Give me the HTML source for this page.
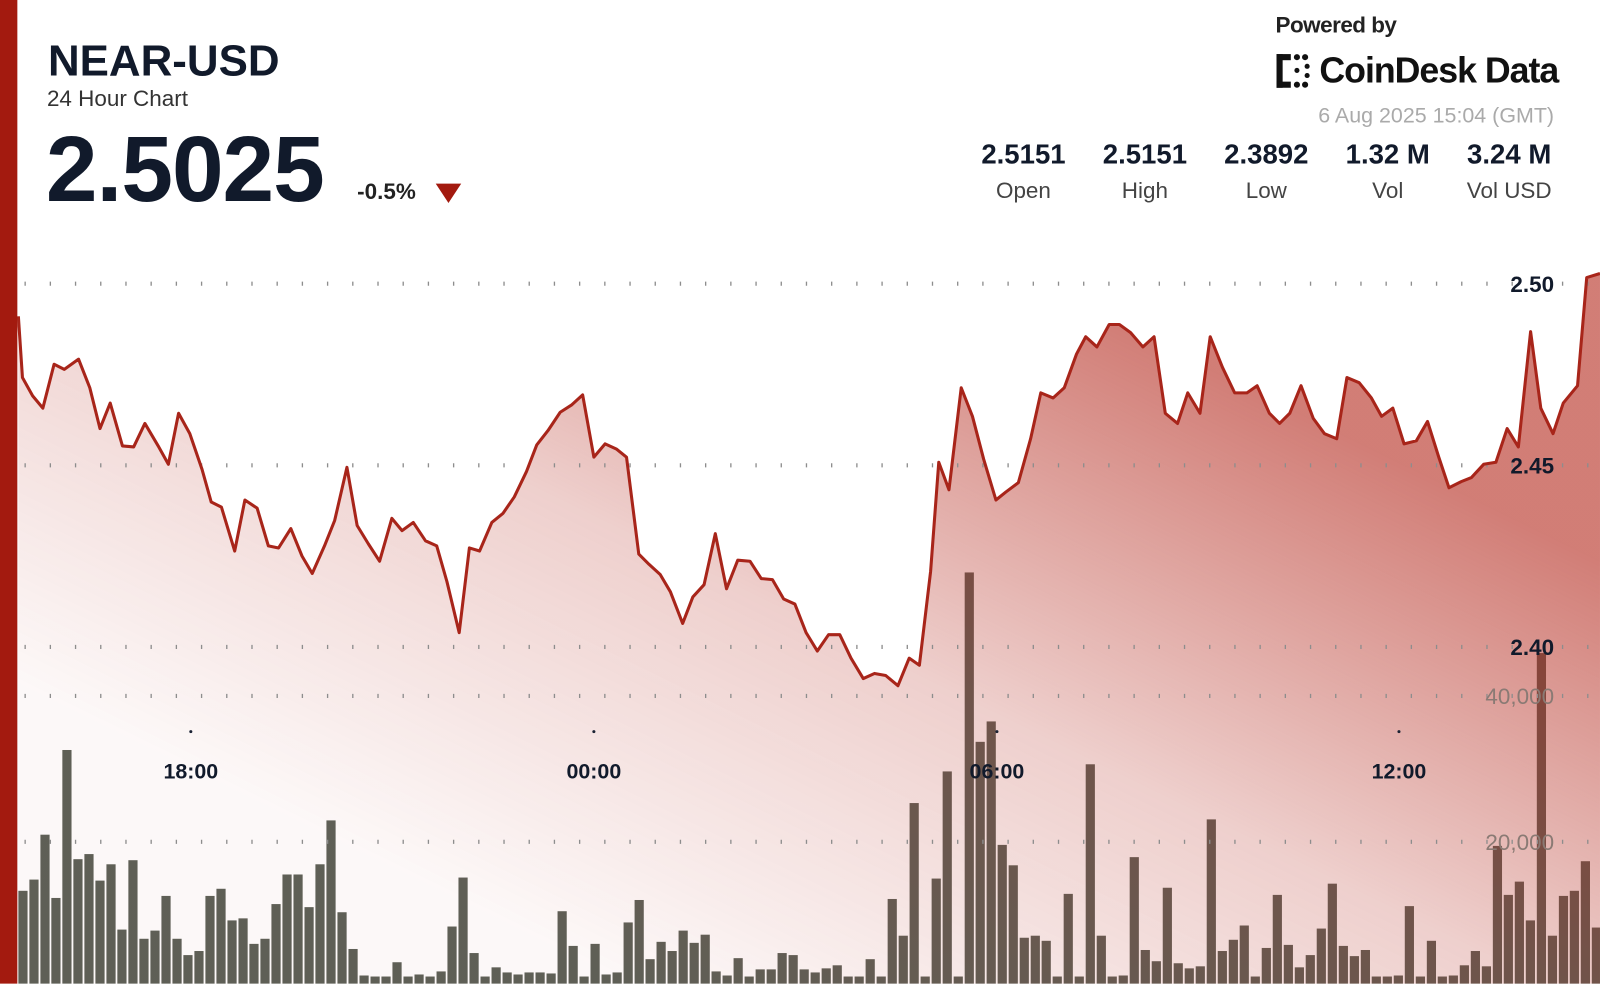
<!DOCTYPE html>
<html><head><meta charset="utf-8">
<style>
html,body{margin:0;padding:0;background:#fff;}
body{width:1600px;height:983px;overflow:hidden;position:relative;font-family:"Liberation Sans",sans-serif;color:#111a2b;}
#wrap{position:absolute;left:0;top:0;width:1568px;height:964px;transform:scale(1.0204);transform-origin:0 0;}
.abs{position:absolute;white-space:nowrap;}
</style></head><body>
<div id="wrap">
<svg width="1568" height="964" style="position:absolute;left:0;top:0" xmlns="http://www.w3.org/2000/svg">
<defs>
<linearGradient id="g" gradientUnits="userSpaceOnUse" x1="650" y1="983" x2="1000" y2="270">
<stop offset="0" stop-color="#b3271b" stop-opacity="0.03"/>
<stop offset="0.5" stop-color="#b3271b" stop-opacity="0.22"/>
<stop offset="1" stop-color="#b3271b" stop-opacity="0.6"/>
</linearGradient>
</defs>
<g id="bars" fill="#5c6158"></g>
<polygon id="area" fill="url(#g)" points=""/>
<g stroke="#8d8d8d" stroke-width="4" stroke-dasharray="1.3 23.4" fill="none">
<line x1="24" y1="278" x2="1568" y2="278"/>
<line x1="24" y1="456" x2="1568" y2="456"/>
<line x1="24" y1="634" x2="1568" y2="634"/>
<line x1="24" y1="682" x2="1568" y2="682"/>
<line x1="24" y1="825" x2="1568" y2="825"/>
</g>
<polyline id="line" fill="none" stroke="#a8251a" stroke-width="3" stroke-linejoin="round" points=""/>
<g fill="#1a2233">
<circle cx="187" cy="717" r="1.5"/><circle cx="582" cy="717" r="1.5"/><circle cx="977" cy="717" r="1.5"/><circle cx="1371" cy="717" r="1.5"/>
</g>
<g font-family="Liberation Sans, sans-serif" font-weight="bold" font-size="21" fill="#111a2b" text-anchor="middle">
<text x="187" y="763">18:00</text><text x="582" y="763">00:00</text><text x="977" y="763">06:00</text><text x="1371" y="763">12:00</text>
</g>
<g font-family="Liberation Sans, sans-serif" font-weight="bold" font-size="22" text-anchor="end">
<text x="1523" y="286" fill="#111a2b">2.50</text>
<text x="1523" y="464" fill="#111a2b">2.45</text>
<text x="1523" y="642" fill="#111a2b">2.40</text>
<text x="1523" y="690" fill="#8a7a74" font-weight="normal">40,000</text>
<text x="1523" y="833" fill="#8a7a74" font-weight="normal">20,000</text>
</g>
<rect x="0" y="0" width="17" height="983" fill="#a31a0f"/>
<polygon points="427,180 452,180 439.5,199" fill="#a31a0f"/>
<g transform="translate(1251,53)" fill="#111">
<rect x="0" y="0" width="6" height="33"/>
<rect x="0" y="0" width="14" height="6"/><rect x="0" y="27" width="14" height="6"/>
<circle cx="20" cy="3" r="3"/><circle cx="28" cy="3" r="3"/><circle cx="20" cy="30" r="3"/><circle cx="28" cy="30" r="3"/>
<circle cx="20" cy="16" r="2.5"/><circle cx="30" cy="12" r="2.5"/><circle cx="30" cy="21" r="2.5"/>
</g>
</svg>
<div class="abs" style="left:47px;top:36px;font-size:43px;font-weight:bold;">NEAR-USD</div>
<div class="abs" style="left:46px;top:84px;font-size:22px;color:#333;">24 Hour Chart</div>
<div class="abs" style="left:45px;top:115px;font-size:91px;font-weight:bold;letter-spacing:-1px;">2.5025</div>
<div class="abs" style="left:350px;top:175px;font-size:22px;font-weight:bold;color:#222;">-0.5%</div>
<div class="abs" style="left:1250px;top:12px;font-size:22px;font-weight:bold;color:#222;letter-spacing:-0.5px;">Powered by</div>
<div class="abs" style="left:1293px;top:50px;font-size:35px;font-weight:bold;color:#111;letter-spacing:-1px;">CoinDesk Data</div>
<div class="abs" style="right:45px;top:102px;font-size:21px;color:#aaa;">6 Aug 2025 15:04 (GMT)</div>
<div class="abs" style="left:943px;top:136px;width:120px;text-align:center;font-size:27px;font-weight:bold;">2.5151</div>
<div class="abs" style="left:1062px;top:136px;width:120px;text-align:center;font-size:27px;font-weight:bold;">2.5151</div>
<div class="abs" style="left:1181px;top:136px;width:120px;text-align:center;font-size:27px;font-weight:bold;">2.3892</div>
<div class="abs" style="left:1300px;top:136px;width:120px;text-align:center;font-size:27px;font-weight:bold;">1.32 M</div>
<div class="abs" style="left:1419px;top:136px;width:120px;text-align:center;font-size:27px;font-weight:bold;">3.24 M</div>
<div class="abs" style="left:943px;top:174px;width:120px;text-align:center;font-size:22px;color:#444;">Open</div>
<div class="abs" style="left:1062px;top:174px;width:120px;text-align:center;font-size:22px;color:#444;">High</div>
<div class="abs" style="left:1181px;top:174px;width:120px;text-align:center;font-size:22px;color:#444;">Low</div>
<div class="abs" style="left:1300px;top:174px;width:120px;text-align:center;font-size:22px;color:#444;">Vol</div>
<div class="abs" style="left:1419px;top:174px;width:120px;text-align:center;font-size:22px;color:#444;">Vol USD</div>
</div>
<script>
var pts=[[18,310],[22,370],[32,388],[42,400],[53,357],[63,362],[77,352],[88,380],[98,420],[108,395],[120,437],[131,438],[142,415],[155,437],[165,455],[175,405],[186,425],[198,460],[207,492],[217,497],[230,540],[240,490],[252,498],[263,535],[273,537],[285,518],[296,545],[306,562],[318,535],[328,510],[340,458],[350,515],[361,533],[372,550],[384,508],[394,520],[405,512],[417,530],[428,535],[438,570],[450,620],[460,537],[470,540],[482,512],[493,503],[504,487],[516,462],[526,436],[537,422],[549,404],[560,397],[571,387],[582,448],[593,435],[604,440],[614,448],[626,543],[636,553],[647,563],[657,580],[669,611],[679,585],[690,573],[701,523],[712,577],[723,549],[735,550],[746,567],[757,568],[768,587],[779,592],[790,620],[801,638],[812,622],[823,622],[834,645],[846,665],[857,660],[868,662],[880,672],[891,645],[901,652],[912,560],[920,453],[930,480],[942,380],[953,408],[964,450],[976,490],[986,482],[998,473],[1010,430],[1020,385],[1032,390],[1043,380],[1055,347],[1064,330],[1075,340],[1087,318],[1097,318],[1108,326],[1120,340],[1131,330],[1142,405],[1154,415],[1164,385],[1176,405],[1186,330],[1198,360],[1210,385],[1222,385],[1232,378],[1244,405],[1254,415],[1264,405],[1275,378],[1287,410],[1298,425],[1310,430],[1320,370],[1332,375],[1344,390],[1354,408],[1365,400],[1376,435],[1388,432],[1399,413],[1410,448],[1420,478],[1432,472],[1442,468],[1454,455],[1466,453],[1477,420],[1488,438],[1500,325],[1510,400],[1522,425],[1532,395],[1546,378],[1555,272],[1568,268]];
var s=pts.map(function(p){return p[0]+','+p[1]}).join(' ');
document.getElementById('line').setAttribute('points',s);
document.getElementById('area').setAttribute('points',s+' 1568,983 18,983');
var v=[873,862,818,880,735,842,837,863,847,911,843,920,912,878,920,936,932,878,871,902,900,925,920,886,857,857,889,847,804,894,930,956,961,964,943,958,955,960,952,908,860,934,975,948,953,955,953,953,954,893,927,959,925,955,953,904,882,940,923,932,912,924,916,952,956,939,957,950,950,934,936,950,
953,949,946,968,979,940,974,881,917,787,976,861,756,964,561,727,707,828,848,919,917,922,976,876,970,749,917,967,956,840,931,942,870,944,949,947,803,932,921,907,971,929,877,926,948,936,910,866,927,937,931,972,978,956,888,975,922,971,956,946,932,947,829,877,864,902,640,917,878,873,844,909];
var n=v.length,x0=18,x1=1560,st=(x1-x0)/(n-1),h='';
for(var i=0;i<n;i++){var y=Math.min(v[i],957);var x=x0+i*st;h+='<rect x="'+x.toFixed(1)+'" y="'+y+'" width="'+(st-1.8).toFixed(1)+'" height="'+(983-y)+'"/>';}
document.getElementById('bars').innerHTML=h;
</script>
</body></html>
